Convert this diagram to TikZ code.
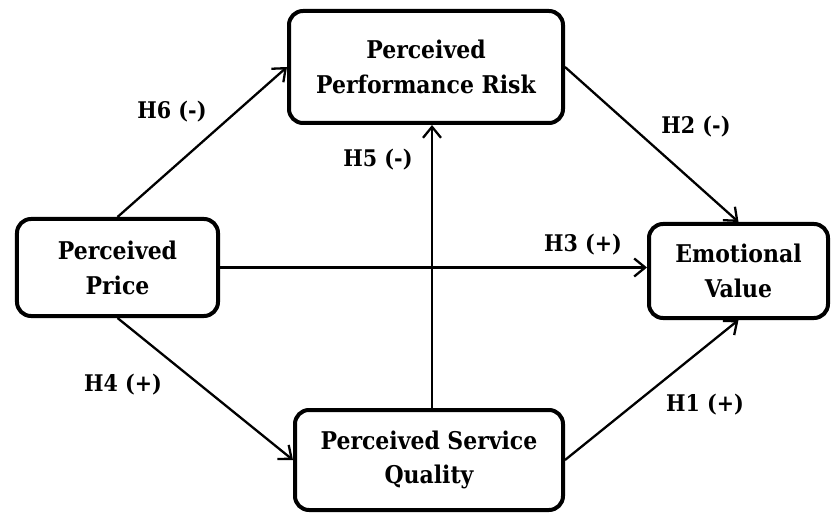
\documentclass[tikz,border=0pt]{standalone}
\usepackage{fontspec}
\setmainfont{DejaVu Serif Condensed}
\usetikzlibrary{arrows.meta}

\tikzset{
  var/.style = {draw, line width=4bp, rounded corners=14bp, align=center,
                font=\fontsize{24.5}{35}\selectfont\bfseries, inner sep=0pt},
  link/.style = {line width=2.3bp, -{Straight Barb[length=11bp,width=18bp,line width=2.3bp]}},
  hlab/.style = {font=\fontsize{23}{27}\selectfont\bfseries}
}

\begin{document}
\begin{tikzpicture}[x=1bp, y=-1bp]
	\useasboundingbox (0,0) rectangle (835,516);
	\node[var, minimum width=274bp, minimum height=112bp] (risk)    at (426,67)    {Perceived\\Performance Risk};
	\node[var, minimum width=201bp, minimum height=97bp]  (price)   at (117.5,267.5) {Perceived\\Price};
	\node[var, minimum width=179bp, minimum height=94bp]  (emotion) at (738.5,271) {Emotional\\Value};
	\node[var, minimum width=268bp, minimum height=100bp] (service) at (429,460)   {Perceived Service\\Quality};
	\draw[link] (price.north) -- (risk.west);
	\draw[link] (risk.east) -- (emotion.north);
	\draw[link] (price.east) -- (price.east -| emotion.west);
	\draw[link] (service.north -| 432,0) -- (risk.south -| 432,0);
	\draw[link] (price.south) -- (service.west);
	\draw[link] (service.east) -- (emotion.south);
	\node[hlab] (h6) at (172,112) {H6 (-)};
	\node[hlab] (h2) at (696,127) {H2 (-)};
	\node[hlab] (h3) at (583,245) {H3 (+)};
	\node[hlab] (h5) at (378,160) {H5 (-)};
	\node[hlab] (h4) at (123,385) {H4 (+)};
	\node[hlab] (h1) at (705,405) {H1 (+)};
\end{tikzpicture}
\end{document}
